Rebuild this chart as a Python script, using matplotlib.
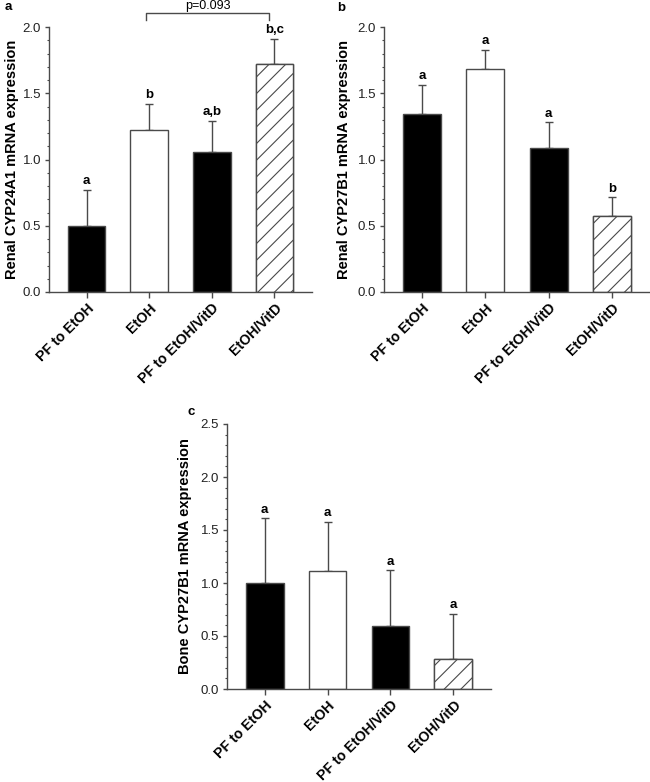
import matplotlib
matplotlib.use("Agg")
import matplotlib.pyplot as plt
from matplotlib.ticker import MultipleLocator, FormatStrFormatter

plt.rcParams['font.family'] = ['Liberation Sans', 'DejaVu Sans']
plt.rcParams['hatch.linewidth'] = 0.8

categories = ["PF to EtOH", "EtOH", "PF to EtOH/VitD", "EtOH/VitD"]

a_means = [0.50, 1.22, 1.06, 1.72]
a_errs = [0.27, 0.20, 0.23, 0.19]
a_letters = ["a", "b", "a,b", "b,c"]

b_means = [1.34, 1.685, 1.09, 0.57]
b_errs = [0.225, 0.145, 0.19, 0.145]
b_letters = ["a", "a", "a", "b"]

c_means = [1.00, 1.11, 0.59, 0.28]
c_errs = [0.61, 0.47, 0.53, 0.43]
c_letters = ["a", "a", "a", "a"]

fills = ["black", "white", "black", "white"]
hatches = [None, None, None, "//"]
EDGE = "#4a4a4a"

W, H = 650, 782
fig = plt.figure(figsize=(W / 100, H / 100), dpi=100)


def panel(rect, means, errs, letters, ylabel, ymax, ylab_x, tag, tag_xy):
    ax = fig.add_axes(rect)
    x = list(range(len(categories)))
    ax.bar(x, means, width=0.6, color=fills, edgecolor=EDGE, linewidth=1.0,
           zorder=2)
    for xi, m, h in zip(x, means, hatches):
        if h:
            ax.bar([xi], [m], width=0.6, color="white", edgecolor=EDGE,
                   linewidth=1.0, hatch=h, zorder=2)
    ax.errorbar(x, means, yerr=[[0] * len(errs), errs], fmt="none",
                ecolor=EDGE, elinewidth=1.0, capsize=3, capthick=1.0, zorder=1)
    off = ymax * 0.01
    for xi, m, e, t in zip(x, means, errs, letters):
        ax.text(xi, m + e + off, t, ha="center", va="bottom",
                fontsize=9.5, fontweight="bold")
    ax.set_xlim(-0.6, 3.6)
    ax.set_ylim(0, ymax)
    ax.yaxis.set_major_locator(MultipleLocator(0.5))
    ax.yaxis.set_minor_locator(MultipleLocator(0.1))
    ax.yaxis.set_major_formatter(FormatStrFormatter("%.1f"))
    ax.set_xticks(x)
    ax.set_xticklabels(categories, rotation=45, ha="right",
                       rotation_mode="anchor", fontsize=10.2, fontweight="bold")
    for s in ["top", "right"]:
        ax.spines[s].set_visible(False)
    for s in ["left", "bottom"]:
        ax.spines[s].set_color(EDGE)
        ax.spines[s].set_linewidth(1.0)
    ax.tick_params(axis="y", which="major", direction="out", length=3.2,
                   width=1.0, color=EDGE, labelsize=9.5, pad=2.5,
                   labelcolor="#222222")
    ax.tick_params(axis="y", which="minor", direction="out", length=1.8,
                   width=0.8, color=EDGE)
    ax.tick_params(axis="x", which="major", direction="out", length=4,
                   width=1.0, color=EDGE, pad=2.5, labelsize=10.2)
    ax.set_ylabel(ylabel, fontsize=10.5, fontweight="bold")
    ax.yaxis.set_label_coords(ylab_x, rect[1] + rect[3] / 2,
                              transform=fig.transFigure)
    fig.text(tag_xy[0] / W, 1 - tag_xy[1] / H, tag, fontsize=9.5,
             fontweight="bold", ha="center", va="center")
    return ax


axa = panel([49 / W, (H - 292) / H, 263 / W, 265 / H], a_means, a_errs,
            a_letters, "Renal CYP24A1 mRNA expression", 2.0, 19 / W, "a", (8, 7))
panel([384 / W, (H - 292) / H, 266 / W, 265 / H], b_means, b_errs,
      b_letters, "Renal CYP27B1 mRNA expression", 2.0, 351 / W, "b", (341, 8))
panel([227 / W, (H - 689) / H, 264 / W, 265 / H], c_means, c_errs,
      c_letters, "Bone CYP27B1 mRNA expression", 2.5, 192 / W, "c", (191, 412))

# significance bracket on panel a
y_lo, y_hi = 2.053, 2.106
axa.plot([0.95, 0.95, 2.92, 2.92], [y_lo, y_hi, y_hi, y_lo],
         color=EDGE, linewidth=1.0, clip_on=False)
axa.text((0.95 + 2.92) / 2, y_hi + 0.008, "p=0.093", ha="center", va="bottom",
         fontsize=9)

fig.savefig("out.png", dpi=100)
